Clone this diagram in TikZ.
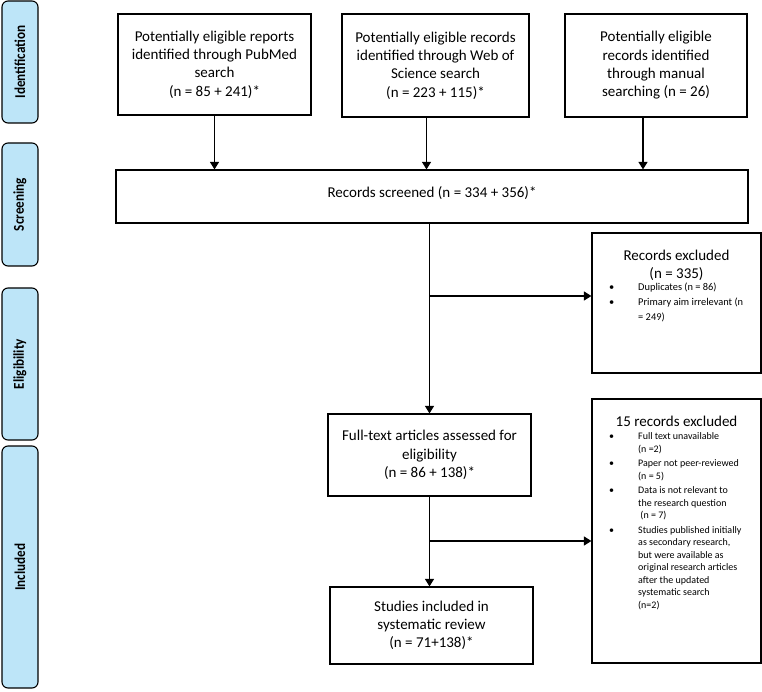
\documentclass[tikz,border=0pt]{standalone}
\usepackage{fontspec}
\setmainfont{Carlito}
\newfontfamily\barfont[FakeStretch=0.88]{Carlito}
\usetikzlibrary{arrows.meta}
\definecolor{barblue}{HTML}{BDE5F8}
\def\darr{\draw[line width=1.2pt,-{Triangle[length=7.5pt,width=9pt]}]}
\tikzset{
  bar/.style={draw,line width=1.1pt,fill=barblue,rounded corners=6pt,rotate=90,
    minimum height=36pt,inner sep=0pt,font=\barfont\fontsize{15}{17}\selectfont\bfseries},
  box/.style={draw,line width=1.2pt,align=center,inner sep=0pt,
    font=\fontsize{15}{18.3}\selectfont},
  head/.style={align=center,inner sep=0pt,anchor=north,font=\fontsize{15}{18.3}\selectfont},
  lst/.style={align=left,inner sep=0pt,anchor=north west}
}

\begin{document}
\begin{tikzpicture}[x=1pt,y=-1pt]
\useasboundingbox (0,0) rectangle (762,692);
% stage bars
\node[bar,minimum width=122pt] (ident) at (20,62)    {Identification};
\node[bar,minimum width=123pt] (screen) at (20,204.5) {Screening};
\node[bar,minimum width=152pt] (elig) at (20,364)    {Eligibility};
\node[bar,minimum width=242pt] (inclbar) at (20,567) {Included};
% boxes
\node[box,minimum width=193pt,minimum height=101pt] (pubmed) at (214.5,64.5)
  {Potentially eligible reports\\identified through PubMed\\search\\(n = 85 + 241)*};
\node[box,minimum width=187pt,minimum height=103pt] (wos) at (435.5,65.5)
  {Potentially eligible records\\identified through Web of\\Science search\\(n = 223 + 115)*};
\node[box,minimum width=182pt,minimum height=103pt] (manual) at (656,65.5)
  {Potentially eligible\\records identified\\through manual\\searching (n = 26)};
\node[box,minimum width=632pt,minimum height=53pt,text depth=8pt] (screened) at (432,196.5)
  {Records screened (n = 334 + 356)*};
\node[box,minimum width=169pt,minimum height=140pt] (excl1) at (676.5,303) {};
\node[box,minimum width=203pt,minimum height=82pt] (fulltext) at (429.5,455)
  {Full-text articles assessed for\\eligibility\\(n = 86 + 138)*};
\node[box,minimum width=169pt,minimum height=264pt] (excl2) at (676.5,531) {};
\node[box,minimum width=203pt,minimum height=77pt] (incl) at (431.5,625.5)
  {Studies included in\\systematic review\\(n = 71+138)*};
% texts of the exclusion boxes
\node[head] (excl1head) at (676.5,250) {Records excluded\\(n = 335)};
\node[lst] (excl1list) at (609,279.5) {\fontsize{10.4}{15}\selectfont
  \begin{tabular}{@{}p{29pt}@{}l@{}}
  \textbullet & Duplicates (n = 86)\\
  \textbullet & Primary aim irrelevant (n\\
              & = 249)
  \end{tabular}};
\node[head] (excl2head) at (676.5,416) {15 records excluded};
\node[lst] (excl2list) at (609,431) {\fontsize{10}{12.5}\selectfont
  \begin{tabular}{@{}p{29pt}@{}l@{}}
  \textbullet & Full text unavailable\\
              & (n =2)\\[2pt]
  \textbullet & Paper not peer-reviewed\\
              & (n = 5)\\[2pt]
  \textbullet & Data is not relevant to\\
              & the research question\\
              & \ (n = 7)\\[2pt]
  \textbullet & Studies published initially\\
              & as secondary research,\\
              & but were available as\\
              & original research articles\\
              & after the updated\\
              & systematic search\\
              & (n=2)
  \end{tabular}};
% connectors
\darr (pubmed) -- (pubmed |- screened.north);
\darr ([xshift=-9pt]wos.south) -- ([xshift=-9pt]wos.south |- screened.north);
\darr ([xshift=-13pt]manual.south) -- ([xshift=-13pt]manual.south |- screened.north);
\darr (fulltext.north |- screened.south) -- (fulltext.north);
\coordinate (b1) at (429.5,296);
\darr (b1) -- (b1 -| excl1.west);
\darr (fulltext.south) -- (fulltext.south |- incl.north);
\coordinate (b2) at (429.5,541);
\darr (b2) -- (b2 -| excl2.west);
\end{tikzpicture}
\end{document}
